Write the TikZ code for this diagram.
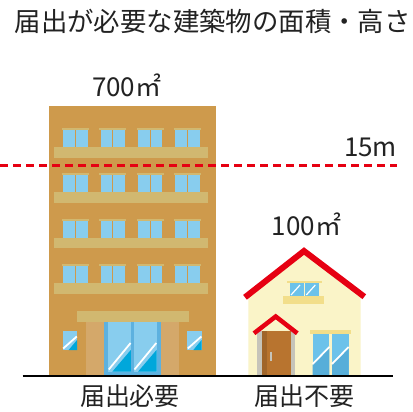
\documentclass[tikz,border=0pt]{standalone}
\usepackage{fontspec}
\newfontfamily\jpfont{Noto Sans CJK JP}
\definecolor{bldg}{HTML}{CE9A4C}
\definecolor{strip}{HTML}{D1B870}
\definecolor{pillar}{HTML}{D4A86A}
\definecolor{glass}{HTML}{88CDEE}
\definecolor{glassdark}{HTML}{00A7DB}
\definecolor{doorframe}{HTML}{5DB1DF}
\definecolor{wall}{HTML}{FAF4C8}
\definecolor{ledge}{HTML}{F2DE8A}
\definecolor{roofred}{HTML}{E60012}
\definecolor{door}{HTML}{B8742F}
\definecolor{doordark}{HTML}{A0652A}
\definecolor{doorgray}{HTML}{C6C4BA}
\definecolor{hglass}{HTML}{6CC2EA}
\definecolor{hglassdark}{HTML}{57AED9}
\definecolor{ink}{HTML}{222222}
\tikzset{
  lbl/.style={font=\jpfont\fontsize{26}{26}\selectfont, text=ink, inner sep=0pt, anchor=base},
  sublbl/.style={font=\jpfont\fontsize{25}{25}\selectfont, text=ink, inner sep=0pt, anchor=base},
  roofline/.style={draw=roofred, line width=6pt, line join=miter, line cap=butt},
  glint/.style={draw=white, line width=1.8pt}
}
\begin{document}
\begin{tikzpicture}[x=1pt,y=-1pt]
\useasboundingbox (0,0) rectangle (413,412);
\fill[white] (0,0) rectangle (413,412);

% title
\node[lbl, anchor=base west, font=\jpfont\fontsize{26.4}{26.4}\selectfont] (title) at (14.5,32) {届出が必要な建築物の面積・高さ};

% ---------- apartment block ----------
\fill[bldg] (49,106) rectangle (216,375);
\foreach \k in {0,1,2,3}{
  \pgfmathsetmacro{\S}{147+45.3*\k}
  \foreach \j in {0,1,2,3}{
    \pgfmathsetmacro{\X}{62+37.33*\j}
    \fill[strip] (\X,\S-19) rectangle (\X+27,\S-17);
    \fill[glass] (\X+1.3,\S-17) rectangle (\X+13,\S);
    \fill[glass] (\X+14,\S-17) rectangle (\X+25.7,\S);
  }
  \fill[strip] (54,\S) rectangle (207.7,\S+10.7);
}
% entrance canopy, pillars and glass door
\fill[strip] (76.7,311) rectangle (189,321.7);
\fill[pillar] (85.7,321.7) rectangle (104,375);
\fill[pillar] (161,321.7) rectangle (179.3,375);
\fill[doorframe] (104,321.7) rectangle (161,375);
\foreach \px in {108.3,134}{
  \fill[glass] (\px,322.3) rectangle (\px+22.5,371.7);
  \fill[glassdark] (\px+22.5,371.7) -- (\px+22.5,350) -- (\px+4,371.7) -- cycle;
  \draw[glint] (\px+0.5,369.5) -- (\px+22.3,343);
}
% small side windows
\foreach \px in {62.7,187.3}{
  \fill[glass] (\px,331) rectangle (\px+14.3,350);
  \fill[glassdark] (\px+14.3,350) -- (\px+14.3,340) -- (\px+6,350) -- cycle;
  \draw[glint] (\px+0.5,348.5) -- (\px+14.1,336.5);
}

% ---------- house ----------
\fill[wall] (248.3,375) -- (248.3,296) -- (304,252) -- (360.7,296) -- (360.7,375) -- cycle;
% attic window
\fill[ledge] (287.3,281) rectangle (322,283.3);
\fill[hglass] (290,283.3) rectangle (304,296);
\fill[hglass] (305.3,283.3) rectangle (318.7,296);
\draw[glint, line width=1.2pt] (291,295) -- (300,285);
\draw[glint, line width=1.2pt] (306.3,295) -- (315.3,285);
\fill[ledge] (283.3,296.3) rectangle (324,304);
% front door with porch roof
\fill[wall] (254,333.3) -- (275.7,316) -- (297.3,333.3) -- cycle;
\fill[doorgray] (256.7,331) rectangle (295,375);
\fill[door] (261.7,331) rectangle (291,375);
\fill[doordark] (261.7,331) rectangle (267.3,375);
\draw[doorgray, line width=1.2pt] (271,351.7) -- (271,361);
\draw[roofline, line width=4.5pt] (254,333.3) -- (275.7,316.5) -- (297.3,333.3);
% patio window
\fill[ledge] (310,330) rectangle (351,333.7);
\foreach \px in {312.7,332}{
  \fill[hglass] (\px,333.7) rectangle (\px+16.6,375);
  \fill[hglassdark] (\px+16.6,375) -- (\px+16.6,348) -- (\px,365) -- (\px,375) -- cycle;
  \draw[glint] (\px,364) -- (\px+16.6,347);
}
% main roof
\draw[roofline] (245,297.3) -- (304,251) -- (364.3,296.7);

% ground
\draw[black, line width=2pt] (22.7,375.8) -- (393,375.8);

% height line
\coordinate (hl0) at (0,165.3);
\coordinate (hl1) at (397,165.3);
\draw[roofred, line width=2.8pt, dash pattern=on 7.5pt off 5.5pt] (hl0) -- (hl1);

% labels
\node[lbl] (area1) at (126.7,97) {700㎡};
\node[lbl] (area2) at (306.5,235) {100㎡};
\node[lbl] (height) at (370.5,157) {15m};
\node[sublbl] (need) at (130,405) {届出必要};
\node[sublbl] (noneed) at (304,405) {届出不要};
\end{tikzpicture}
\end{document}
